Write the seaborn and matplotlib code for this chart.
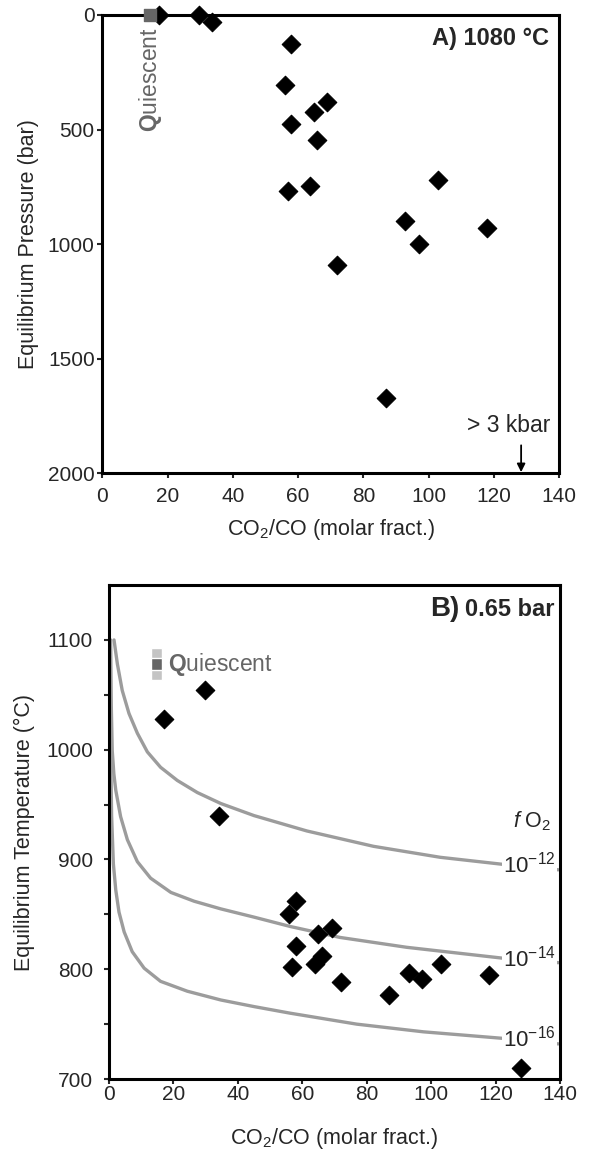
import numpy as np
import pandas as pd
import matplotlib
matplotlib.use("Agg")
import matplotlib.pyplot as plt
import seaborn as sns

# panel A: equilibrium pressure at 1080 C
ratio_a = [17.5, 29.7, 33.6, 57.9, 55.9, 68.8, 64.9, 57.9, 65.8, 102.9,
           63.7, 56.8, 92.7, 117.9, 96.9, 71.8, 87.0]
pressure_a = [0, 0, 31, 125, 306, 380, 423, 478, 544, 720,
              748, 767, 901, 930, 1000, 1090, 1672]
quiescent_ratio = 14.7
quiescent_pressure = 0
kbar_ratio = 128.3   # the > 3 kbar sample

# panel B: equilibrium temperature at 0.65 bar
ratio_b = [17.0, 29.8, 34.1, 58.1, 56.0, 69.2, 65.0, 58.1, 66.0, 64.0,
           56.9, 103.1, 93.2, 97.1, 118.1, 72.0, 87.0, 127.8]
temp_b = [1028, 1054, 940, 862, 850, 838, 832, 821, 812, 805,
          802, 805, 797, 791, 795, 788, 777, 710]
quiescent_range = (1063.6, 1093.0)
quiescent_core = (1072.7, 1083.4)

# fO2 isopleths
fo2_labels = ["10$^{-12}$", "10$^{-14}$", "10$^{-16}$"]
iso12_x = [1.55, 2.6, 4.1, 6.2, 8.8, 11.9, 16.0, 21.2, 27.4, 34.7, 45.0, 61.4, 82.1, 102.8, 122.5, 139.5]
iso12_t = [1100, 1078, 1054, 1033, 1015, 998, 984, 972, 961, 951, 940, 926, 912, 902, 895.5, 890.6]
iso14_x = [0.5, 0.7, 1.0, 1.5, 2.1, 3.6, 5.7, 8.8, 12.9, 19.2, 26.4, 34.7, 45.0, 56.2, 71.7, 92.4, 122.5, 139.5]
iso14_t = [1100, 1040, 999, 978, 963, 939, 918, 898, 883, 870, 862, 855, 847.5, 839, 829, 820, 810, 806]
iso16_x = [0.3, 0.5, 0.8, 1.35, 2.1, 3.1, 4.7, 7.2, 10.9, 16.0, 24.3, 34.7, 45.0, 56.2, 76.9, 97.6, 122.5, 139.5]
iso16_t = [1100, 1000, 940, 896, 872, 852, 834, 816, 801, 789, 780, 772, 766, 760, 750, 743, 737, 732]

sns.set_style("ticks")
plt.rcParams['font.family'] = ['Liberation Sans', 'DejaVu Sans']
plt.rcParams['mathtext.fontset'] = 'custom'
plt.rcParams['mathtext.rm'] = 'Liberation Sans'
plt.rcParams['mathtext.it'] = 'Liberation Sans:italic'
plt.rcParams['mathtext.bf'] = 'Liberation Sans:bold'

GREY_LINE = "#9c9c9c"
GREY_DARK = "#666666"
GREY_LIGHT = "#c4c4c4"
FS_TICK = 15
FS_LAB = 15.5
FS_TXT = 16.5

fig = plt.figure(figsize=(5.89, 11.49), dpi=100)
ax1 = fig.add_axes([0.1737, 0.5881, 0.7759, 0.3989])
ax2 = fig.add_axes([0.1851, 0.0609, 0.7657, 0.4299])

for ax in (ax1, ax2):
    for sp in ax.spines.values():
        sp.set_linewidth(2.2)
        sp.set_color("black")
        sp.set_zorder(5)
    ax.tick_params(direction="out", length=3.5, width=1.5, labelsize=FS_TICK)
    ax.set_xlim(0, 140)
    ax.set_xticks(np.arange(0, 141, 20))

# ---- panel A ----
df_a = pd.DataFrame({"ratio": ratio_a, "pressure": pressure_a})
sns.scatterplot(data=df_a, x="ratio", y="pressure", marker="D", s=90,
                color="black", edgecolor="black", ax=ax1, clip_on=False, zorder=6)
ax1.scatter([quiescent_ratio], [quiescent_pressure], marker="s", s=70,
            color=GREY_DARK, clip_on=False, zorder=6)
ax1.set_ylim(2000, 0)
ax1.set_yticks(np.arange(0, 2001, 500))
ax1.tick_params(axis="x", pad=6.5)
ax1.tick_params(axis="y", pad=2)
ax1.set_xlabel("CO$_2$/CO (molar fract.)", fontsize=FS_LAB, labelpad=8)
ax1.set_ylabel("Equilibrium Pressure (bar)", fontsize=FS_LAB, labelpad=6)
ax1.text(quiescent_ratio, 510, r"$\mathbf{Q}$uiescent", rotation=90, color=GREY_DARK,
         fontsize=FS_TXT, ha="center", va="bottom")
ax1.text(136.9, 102, "A) 1080 °C", fontsize=17, fontweight="bold", ha="right", va="center")
ax1.text(124.5, 1790, "> 3 kbar", fontsize=FS_TXT, ha="center", va="center")
ax1.annotate("", xy=(kbar_ratio, 1995), xytext=(kbar_ratio, 1878),
             arrowprops=dict(arrowstyle="-|>", color="black", lw=1.3,
                             mutation_scale=12, shrinkA=0, shrinkB=0))

# ---- panel B ----
for lab, xs, ts in zip(fo2_labels, [iso12_x, iso14_x, iso16_x], [iso12_t, iso14_t, iso16_t]):
    df_iso = pd.DataFrame({"ratio": xs, "temp": ts})
    sns.lineplot(data=df_iso, x="ratio", y="temp", sort=False, estimator=None,
                 color=GREY_LINE, lw=2.4, ax=ax2, zorder=2)
    ax2.text(130.5, ts[-2] - 0.5, lab, fontsize=16, ha="center", va="center", zorder=3,
             bbox=dict(facecolor="white", edgecolor="none", pad=1.0))

ax2.bar([quiescent_ratio], [quiescent_range[1] - quiescent_range[0]],
        bottom=quiescent_range[0], width=3.3, color=GREY_LIGHT, zorder=3)
ax2.bar([quiescent_ratio], [quiescent_core[1] - quiescent_core[0]],
        bottom=quiescent_core[0], width=3.3, color=GREY_DARK, zorder=3)
ax2.text(18.3, 1078, r"$\mathbf{Q}$uiescent", color=GREY_DARK, fontsize=FS_TXT,
         ha="left", va="center")

df_b = pd.DataFrame({"ratio": ratio_b, "temp": temp_b})
sns.scatterplot(data=df_b, x="ratio", y="temp", marker="D", s=90,
                color="black", edgecolor="black", ax=ax2, clip_on=False, zorder=6)
ax2.set_ylim(700, 1150)
ax2.set_yticks([700, 800, 900, 1000, 1100])
ax2.set_yticks([750, 850, 950, 1050], minor=True)
ax2.tick_params(which="minor", direction="out", length=3.5, width=1.5)
ax2.tick_params(axis="x", pad=0.5)
ax2.tick_params(axis="y", pad=8)
ax2.set_xlabel("CO$_2$/CO (molar fract.)", fontsize=FS_LAB, labelpad=16)
ax2.set_ylabel("Equilibrium Temperature (°C)", fontsize=FS_LAB, labelpad=8)
ax2.text(137.5, 935, "$f$ O$_2$", fontsize=15.5, ha="right", va="center")
ax2.text(108.7, 1128, "B)", fontsize=20, fontweight="bold", ha="right", va="center")
ax2.text(138.4, 1128, "0.65 bar", fontsize=17, fontweight="bold", ha="right", va="center")

fig.savefig("out.png", dpi=100)
